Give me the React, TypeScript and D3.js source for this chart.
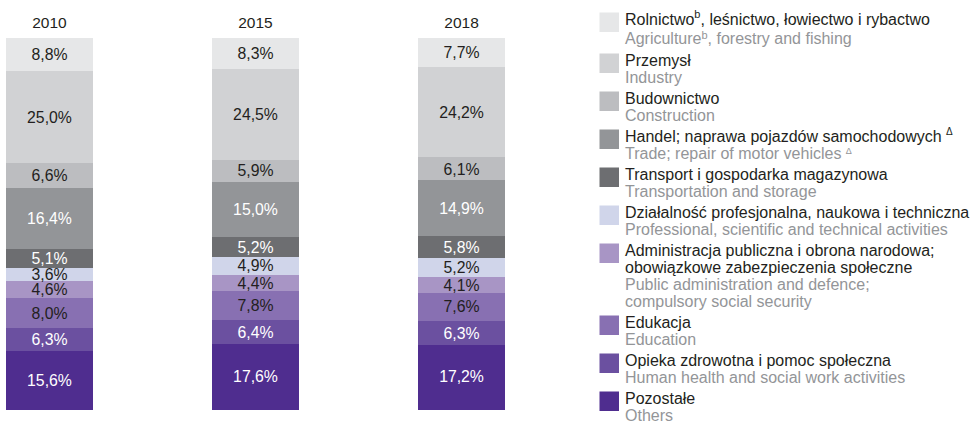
import React from "react";
import * as d3 from "d3";

const years = ["2010", "2015", "2018"];
const sectorsPL = [
  "Rolnictwo", "Przemysł", "Budownictwo", "Handel; naprawa pojazdów samochodowych",
  "Transport i gospodarka magazynowa", "Działalność profesjonalna, naukowa i techniczna",
  "Administracja publiczna i obrona narodowa;|obowiązkowe zabezpieczenia społeczne",
  "Edukacja", "Opieka zdrowotna i pomoc społeczna", "Pozostałe",
];
const sectorsEN = [
  "Agriculture", "Industry", "Construction", "Trade; repair of motor vehicles",
  "Transportation and storage", "Professional, scientific and technical activities",
  "Public administration and defence;|compulsory social security",
  "Education", "Human health and social work activities", "Others",
];
const values2010 = [8.8, 25.0, 6.6, 16.4, 5.1, 3.6, 4.6, 8.0, 6.3, 15.6];
const values2015 = [8.3, 24.5, 5.9, 15.0, 5.2, 4.9, 4.4, 7.8, 6.4, 17.6];
const values2018 = [7.7, 24.2, 6.1, 14.9, 5.8, 5.2, 4.1, 7.6, 6.3, 17.2];
const colors = ["#e6e7e8", "#d1d2d4", "#bcbdc0", "#939598", "#6d6e71", "#d0d5ea", "#a895c5", "#8870b2", "#6b50a0", "#4f2d8f"];
const labelColors = ["#231f20", "#231f20", "#231f20", "#ffffff", "#ffffff", "#231f20", "#231f20", "#231f20", "#ffffff", "#ffffff"];

const FONT = "'Liberation Sans', Arial, sans-serif";

export default function App() {
  const series = [values2010, values2015, values2018];
  const x = d3.scaleBand<string>().domain(years).range([6, 505]).paddingInner(0.578).paddingOuter(0);
  const top = 38, bottom = 409;

  const bars = years.map((yr, i) => {
    const vals = series[i];
    const total = d3.sum(vals);
    const y = d3.scaleLinear().domain([0, total]).range([top, bottom]);
    let acc = 0;
    const segs = vals.map((v, k) => {
      const y0 = y(acc);
      acc += v;
      const y1 = y(acc);
      return { v, k, y0, y1 };
    });
    const bx = x(yr)!;
    const bw = x.bandwidth();
    return (
      <g key={yr}>
        <text x={bx + bw / 2} y={28} textAnchor="middle" fontSize={15.5} fill="#231f20">{yr}</text>
        {segs.map((s) => (
          <rect key={s.k} x={bx} y={s.y0} width={bw} height={s.y1 - s.y0 + 0.5} fill={colors[s.k]} />
        ))}
        {segs.map((s) => (
          <text key={"t" + s.k} x={bx + bw / 2} y={(s.y0 + s.y1) / 2} dy="0.36em" textAnchor="middle" fontSize={15.8} fill={labelColors[s.k]}>
            {s.v.toFixed(1).replace(".", ",") + "%"}
          </text>
        ))}
      </g>
    );
  });

  // legend layout: line step inside item, extra gap between items
  const lineStep = 17;
  const itemGap = 4;
  let center = 20;
  const legend = sectorsPL.map((pl, k) => {
    const plLines = pl.split("|");
    const enLines = sectorsEN[k].split("|");
    const extra = k === 0 ? 1.5 : 0;
    const centers: number[] = [];
    const firstCenter = center;
    plLines.forEach((_, j) => { centers.push(center); center += lineStep + (j === plLines.length - 1 ? extra : 0); });
    enLines.forEach(() => { centers.push(center); center += lineStep; });
    center += itemGap + extra;
    const lines = [
      ...plLines.map((ln) => ({ ln, pl: true })),
      ...enLines.map((ln) => ({ ln, pl: false })),
    ];
    return (
      <g key={k}>
        <rect x={599.5} y={firstCenter - 7.5} width={19.5} height={19.5} fill={colors[k]} />
        {lines.map((L, j) => (
          <text key={j} x={625} y={centers[j] + 5.4} fontSize={16} fill={L.pl ? "#231f20" : "#939598"}>
            {k === 0 && L.pl ? (
              <>Rolnictwo<tspan fontSize={11} dy={-7}>b</tspan><tspan dy={7}>, leśnictwo, łowiectwo i rybactwo</tspan></>
            ) : k === 0 ? (
              <>Agriculture<tspan fontSize={11} dy={-5}>b</tspan><tspan dy={5}>, forestry and fishing</tspan></>
            ) : k === 3 && L.pl ? (
              <>{L.ln + " "}<tspan fontSize={10} dy={-7}>Δ</tspan></>
            ) : k === 3 ? (
              <>{L.ln + " "}<tspan fontSize={9} dy={-5}>Δ</tspan></>
            ) : L.ln}
          </text>
        ))}
      </g>
    );
  });

  return (
    <svg width={971} height={422} style={{ position: "absolute", left: 0, top: 0, fontFamily: FONT }}>
      <rect width={971} height={422} fill="#ffffff" />
      <g shapeRendering="crispEdges">{bars}</g>
      {legend}
    </svg>
  );
}
